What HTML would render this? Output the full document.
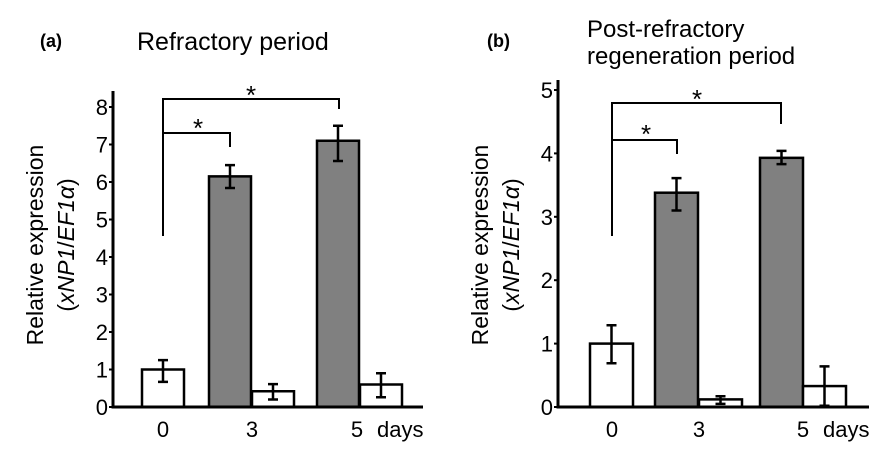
<!DOCTYPE html>
<html><head><meta charset="utf-8"><style>
body{margin:0;background:#fff}
svg{display:block;font-family:"Liberation Sans",Arial,sans-serif}
</style></head><body>
<svg id="c" width="890" height="452"></svg>
<script>
const categories=["0","3","5"];
const aValues=[1.0,6.15,0.42,7.1,0.6];
const aErrHi=[1.25,6.45,0.61,7.5,0.9];
const aErrLo=[0.67,5.84,0.2,6.56,0.26];
const aTicks=[0,1,2,3,4,5,6,7,8];
const bValues=[1.0,3.38,0.12,3.93,0.33];
const bErrHi=[1.29,3.61,0.17,4.04,0.64];
const bErrLo=[0.69,3.1,0.05,3.83,0.02];
const bTicks=[0,1,2,3,4,5];
const ns="http://www.w3.org/2000/svg";
const svg=document.getElementById('c');
function el(t,a,p){const e=document.createElementNS(ns,t);for(const k in a)e.setAttribute(k,a[k]);(p||svg).appendChild(e);return e;}
function panel(o){
 const g=el('g',{});
 
 
 const y=v=>o.base-v*o.unit;
 o.vals.forEach((v,i)=>{
  const x0=o.bx[i];
  const r=el('rect',{x:x0,y:y(v),width:o.bw,height:o.base-y(v),fill:(i===1||i===3)?'#808080':'#fff',stroke:'#000','stroke-width':2.5},g);
  
  
  const cx=x0+o.bw/2;
  const e=el('path',{d:`M${cx},${y(o.hi[i])}V${y(o.lo[i])}M${cx-5},${y(o.hi[i])}H${cx+5}M${cx-5},${y(o.lo[i])}H${cx+5}`,stroke:'#000','stroke-width':2.5,fill:'none'},g);
  
  
 });
 const ax=el('path',{d:`M${o.ax},${o.top}V${o.base}H${o.axEnd}`,stroke:'#000','stroke-width':3,fill:'none'},g);
 
 
 o.ticks.forEach(t=>{
  el('line',{x1:o.ax-4,x2:o.ax,y1:y(t),y2:y(t),stroke:'#000','stroke-width':2},g);
  const tx=el('text',{x:o.ax-5,y:y(t)+8,'font-size':22,'text-anchor':'end'},g);
  tx.textContent=t;
  
  
 });
 categories.forEach((c,i)=>{
  const tx=el('text',{x:o.cx[i],y:437,'font-size':22,'text-anchor':'middle'},g);
  tx.textContent=c;
  
  
 });
 const d=el('text',{x:o.cx[2]+20,y:437,'font-size':22},g);d.textContent='days';
 
 
 el('path',{d:`M${o.b0},${o.brBot}V${o.br1}H${o.br1x}V${o.br1d}M${o.b0},${o.br2}H${o.br2x}V${o.br2d}`,stroke:'#000','stroke-width':2,fill:'none'},g);
 o.stars.forEach(s=>{const t=el('text',{x:s[0],y:s[1],'font-size':26,'text-anchor':'middle'},g);t.textContent='*';
  
  });
 const yl=el('text',{transform:`translate(${o.ylx},245) rotate(-90)`,'font-size':23,'text-anchor':'middle'},g);
 yl.innerHTML=`<tspan x="0" y="0">Relative expression</tspan><tspan x="0" y="31">(<tspan font-style="italic">xNP1</tspan>/<tspan font-style="italic">EF1α</tspan>)</tspan>`;
 
 
}
panel({name:'panel-a',vals:aValues,hi:aErrHi,lo:aErrLo,ticks:aTicks,base:407,unit:37.5,top:91,ax:113,axEnd:423,
 bx:[142,209,252,317,360],bw:42,cx:[163,252,357],b0:163,brBot:236,br1:99,br1x:339,br1d:109,br2:133,br2x:230,br2d:147,
 stars:[[251,104],[198,137]],ylx:43});
panel({name:'panel-b',vals:bValues,hi:bErrHi,lo:bErrLo,ticks:bTicks,base:407,unit:63.4,top:80,ax:558,axEnd:869,
 bx:[590,655,699,760,803],bw:43,cx:[612,699,803],b0:612,brBot:236,br1:103,br1x:781,br1d:124,br2:140,br2x:677,br2d:154,
 stars:[[697,108],[646,143]],ylx:488});
</script>
<svg style="position:absolute;left:0;top:0" width="890" height="120">
<text x="40" y="47" font-size="18" font-weight="bold">(a)</text>
<text x="137" y="50" font-size="25">Refractory period</text>
<text x="487" y="47" font-size="18" font-weight="bold">(b)</text>
<text x="587" y="37" font-size="24">Post-refractory</text>
<text x="587" y="64" font-size="24">regeneration period</text>
</svg>
</body></html>
